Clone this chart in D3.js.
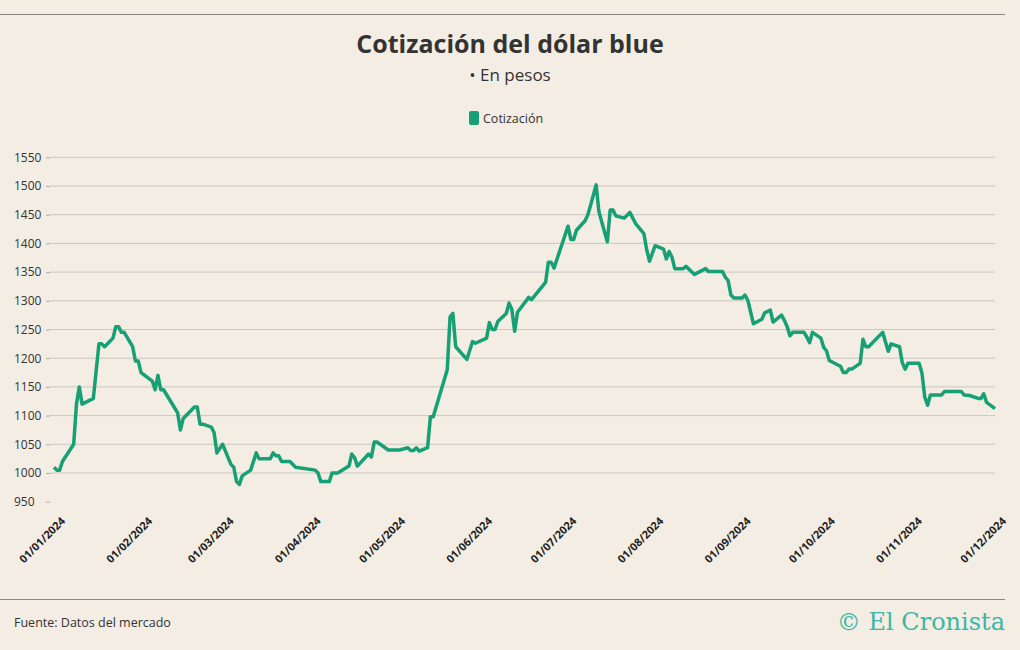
<!DOCTYPE html>
<html><head><meta charset="utf-8">
<script src="https://cdn.jsdelivr.net/npm/d3@7"></script>
<style>body{margin:0;background:#f3ede3}svg{display:block}</style>
</head><body><svg id="c" width="1020" height="650"></svg>
<script>
const dates=["01-01","01-02","01-03","01-04","01-08","01-09","01-10","01-11","01-15","01-17","01-18","01-19","01-22","01-23","01-24","01-25","01-26","01-29","01-30","01-31","02-01","02-05","02-06","02-07","02-08","02-09","02-14","02-15","02-16","02-20","02-21","02-22","02-23","02-26","02-27","02-28","03-01","03-04","03-05","03-06","03-07","03-08","03-11","03-13","03-14","03-18","03-19","03-20","03-21","03-22","03-25","03-27","04-03","04-04","04-05","04-08","04-09","04-11","04-15","04-16","04-17","04-18","04-22","04-23","04-24","04-25","04-29","05-03","05-06","05-07","05-08","05-09","05-10","05-13","05-14","05-15","05-20","05-21","05-22","05-23","05-27","05-29","05-30","06-03","06-04","06-05","06-06","06-07","06-10","06-11","06-12","06-13","06-14","06-18","06-19","06-24","06-25","06-26","06-27","07-02","07-03","07-04","07-05","07-08","07-09","07-10","07-12","07-13","07-15","07-16","07-17","07-18","07-19","07-22","07-24","07-26","07-29","07-30","07-31","08-02","08-05","08-06","08-07","08-08","08-09","08-12","08-13","08-16","08-20","08-21","08-26","08-27","08-28","08-29","08-30","09-02","09-03","09-04","09-06","09-09","09-10","09-12","09-13","09-16","09-17","09-18","09-19","09-20","09-24","09-25","09-26","09-27","09-30","10-01","10-02","10-03","10-07","10-08","10-09","10-10","10-11","10-14","10-15","10-16","10-17","10-22","10-24","10-25","10-28","10-29","10-30","10-31","11-04","11-05","11-06","11-07","11-08","11-12","11-13","11-19","11-20","11-22","11-25","11-26","11-27","11-28","12-01"];
const values=[1010,1005,1005,1020,1050,1120,1150,1120,1130,1225,1225,1220,1235,1255,1255,1245,1245,1220,1195,1195,1175,1160,1145,1170,1145,1145,1105,1075,1095,1115,1115,1085,1085,1080,1070,1035,1050,1015,1010,985,980,995,1005,1035,1025,1025,1035,1030,1030,1020,1020,1010,1005,1000,985,985,1000,1000,1012,1033,1027,1012,1033,1028,1054,1054,1040,1040,1044,1039,1039,1044,1038,1044,1098,1098,1180,1272,1278,1220,1198,1229,1226,1235,1262,1250,1250,1264,1278,1296,1285,1247,1280,1306,1302,1332,1367,1367,1357,1430,1407,1407,1423,1439,1449,1466,1502,1455,1420,1403,1458,1458,1448,1444,1454,1435,1417,1389,1369,1396,1390,1373,1386,1376,1356,1356,1360,1346,1356,1351,1351,1341,1335,1310,1305,1305,1310,1301,1260,1268,1279,1284,1263,1275,1266,1255,1239,1245,1245,1237,1227,1245,1235,1219,1213,1196,1186,1175,1175,1181,1181,1191,1233,1220,1220,1245,1212,1225,1220,1192,1181,1191,1191,1174,1132,1118,1136,1136,1142,1142,1136,1135,1130,1130,1138,1123,1112];
const yTicks=[950,1000,1050,1100,1150,1200,1250,1300,1350,1400,1450,1500,1550];
const xTickLabels=["01/01/2024","01/02/2024","01/03/2024","01/04/2024","01/05/2024","01/06/2024","01/07/2024","01/08/2024","01/09/2024","01/10/2024","01/11/2024","01/12/2024"];

const svg=d3.select("#c");
const parse=d3.timeParse("%Y-%m-%d");
const data=dates.map((d,i)=>({d:parse("2024-"+d),v:values[i]}));
const x=d3.scaleTime().domain([parse("2024-01-01"),parse("2024-12-01")]).range([54,995]);
const y=d3.scaleLinear().domain([950,1550]).range([501.7,157.3]);
const font="'Liberation Sans Narrow','Roboto','Open Sans',sans-serif";

svg.append("line").attr("x1",0).attr("x2",1005).attr("y1",14.5).attr("y2",14.5).attr("stroke","#8a8580");
svg.append("text").attr("x",510).attr("y",53).attr("text-anchor","middle").attr("font-family","'Open Sans',sans-serif").attr("font-weight","bold").attr("font-size",25).attr("fill","#333").text("Cotización del dólar blue");
svg.append("text").attr("x",510).attr("y",81).attr("text-anchor","middle").attr("font-family","'Open Sans',sans-serif").attr("font-size",17).attr("fill","#333").text("• En pesos");
svg.append("rect").attr("x",469).attr("y",111).attr("width",10).attr("height",14).attr("rx",2).attr("fill","#17a075");
svg.append("text").attr("x",483).attr("y",123).attr("font-family","'Open Sans',sans-serif").attr("font-size",12.5).attr("fill","#333").text("Cotización");

const ya=svg.append("g").attr("transform","translate(50,0)").call(d3.axisLeft(y).tickValues(yTicks).tickSize(4).tickFormat(d3.format("d")));
ya.select(".domain").remove();
ya.selectAll(".tick line").attr("stroke","#aaa");
ya.selectAll("text").attr("x",-36).attr("text-anchor","start").attr("font-family","'Open Sans',sans-serif").attr("font-size",12).attr("fill","#333");
svg.append("g").selectAll("line").data(yTicks.slice(1)).join("line")
 .attr("x1",50).attr("x2",995).attr("y1",d=>y(d)).attr("y2",d=>y(d)).attr("stroke","#cbc6bf").attr("stroke-width",1);

const months=d3.timeMonth.range(parse("2024-01-01"),parse("2024-12-02"));
const xa=svg.append("g").attr("transform","translate(0,515)").call(d3.axisBottom(x).tickValues(months).tickSize(0).tickFormat((d,i)=>xTickLabels[i]));
xa.select(".domain").remove();
xa.selectAll("text").attr("transform","rotate(-45)").attr("text-anchor","end").attr("dx","0.3em").attr("dy","0.9em").attr("font-family","'Open Sans',sans-serif").attr("font-weight","bold").attr("font-size",11).attr("fill","#222");

svg.append("path").datum(data).attr("fill","none").attr("stroke","#17a075").attr("stroke-width",3.5).attr("stroke-linejoin","round")
 .attr("d",d3.line().x(d=>x(d.d)).y(d=>y(d.v)));

svg.append("line").attr("x1",0).attr("x2",1005).attr("y1",599.5).attr("y2",599.5).attr("stroke","#8a8580");
svg.append("text").attr("x",14).attr("y",627).attr("font-family","'Open Sans',sans-serif").attr("font-size",12.5).attr("fill","#333").text("Fuente: Datos del mercado");
svg.append("text").attr("x",1005).attr("y",630).attr("text-anchor","end").attr("font-family","'DejaVu Serif','Liberation Serif',serif").attr("font-size",24).attr("fill","#3db6a6").text("© El Cronista");
</script></body></html>
